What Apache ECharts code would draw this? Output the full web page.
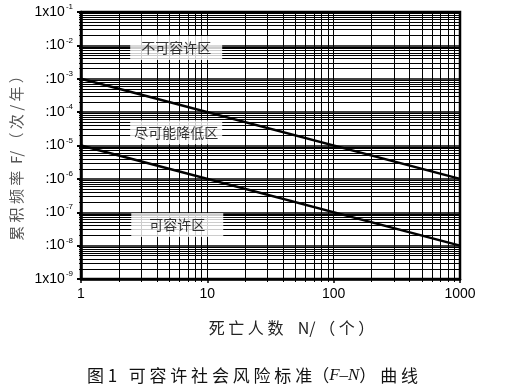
<!DOCTYPE html>
<html>
<head>
<meta charset="utf-8">
<script src="https://cdn.jsdelivr.net/npm/echarts@6/dist/echarts.min.js"></script>
<style>html,body{margin:0;padding:0;background:#fff}#c{width:505px;height:391px}</style>
</head>
<body>
<div id="c"></div>
<script>
// Data
var nValues = [1, 1000];
var upperLimit = [1e-3, 1e-6];
var lowerLimit = [1e-5, 1e-8];
var yTickPrefix = { '-1': '1x10', '-9': '1x10' }; // others shown as ':10'
var xTickLabels = ['1', '10', '100', '1000'];
var regionNames = ['不可容许区', '尽可能降低区', '可容许区'];
var regionN = [5.67, 5.67, 5.78];
var regionF = [8.3e-3, 2.5e-5, 4.15e-8];

var chart = echarts.init(document.getElementById('c'), null, {renderer: 'canvas'});
var cjk = '"Noto Sans CJK SC", sans-serif';
var latin = '"Liberation Sans", Arial, sans-serif';

var option = {
  animation: false,
  backgroundColor: '#fff',
  title: {
    text: '{a|图 1   可 容 许 社 会 风 险 标 准（}{i|F–N}{a|） 曲 线}',
    left: 'center',
    top: 362,
    textStyle: {
      rich: {
        a: { fontFamily: cjk, fontSize: 17, fontWeight: 'normal', color: '#111' },
        i: { fontFamily: '"Liberation Serif", serif', fontStyle: 'italic', fontWeight: 'normal', fontSize: 17, color: '#111' }
      }
    }
  },
  grid: {
    left: 81, right: 45, top: 12, bottom: 112,
    show: true, borderColor: '#000', borderWidth: 2.5
  },
  xAxis: {
    type: 'log', logBase: 10, min: 1, max: 1000,
    name: '死 亡 人 数    N/ （ 个 ）',
    nameLocation: 'middle',
    nameGap: 41,
    nameTextStyle: { fontFamily: cjk, fontSize: 16, color: '#222', padding: [0, 0, 0, 42] },
    axisLine: { lineStyle: { color: '#000', width: 2.5 } },
    axisTick: { show: true, length: 4, lineStyle: { color: '#000', width: 1.5 } },
    minorTick: { show: true, splitNumber: 9, length: 3, lineStyle: { color: '#000', width: 1 } },
    splitLine: { show: true, lineStyle: { color: '#000', width: 1 } },
    minorSplitLine: { show: true, lineStyle: { color: '#000', width: 1 } },
    axisLabel: {
      color: '#000', fontFamily: latin, fontSize: 14, margin: 8,
      formatter: function (v) {
        var e = Math.round(Math.log10(v));
        return xTickLabels[e];
      }
    }
  },
  yAxis: {
    type: 'log', logBase: 10, min: 1e-9, max: 1e-1, interval: 1,
    name: '累 积 频 率  F/ （ 次 / 年 ）',
    nameLocation: 'middle',
    nameGap: 53,
    nameRotate: 90,
    nameTextStyle: { fontFamily: cjk, fontSize: 15, color: '#555', padding: [0, 18, 0, 0] },
    axisLine: { lineStyle: { color: '#000', width: 2.5 } },
    axisTick: { show: true, length: 4, lineStyle: { color: '#000', width: 2 } },
    minorTick: { show: true, splitNumber: 9, length: 2, lineStyle: { color: '#000', width: 1 } },
    splitLine: { show: true, lineStyle: { color: '#000', width: 1.5 } },
    minorSplitLine: { show: true, lineStyle: { color: '#000', width: 1 } },
    axisLabel: {
      margin: 8,
      formatter: function (v) {
        var e = Math.round(Math.log10(v));
        var p = yTickPrefix[String(e)] || ':10';
        return '{b|' + p + '}{s|' + e + '}';
      },
      rich: {
        b: { fontFamily: latin, fontSize: 14, color: '#000' },
        s: { fontFamily: latin, fontSize: 8, color: '#000', padding: [0, 0, 10, 1] }
      }
    }
  },
  series: [
    {
      type: 'line', data: nValues.map(function (n, i) { return [n, upperLimit[i]]; }),
      symbol: 'none', lineStyle: { color: '#000', width: 2.5 }, z: 3
    },
    {
      type: 'line', data: nValues.map(function (n, i) { return [n, lowerLimit[i]]; }),
      symbol: 'none', lineStyle: { color: '#000', width: 2.5 }, z: 3
    },
    {
      type: 'scatter', symbolSize: 0, z: 5,
      data: regionNames.map(function (name, i) { return { name: name, value: [regionN[i], regionF[i]] }; }),
      label: {
        show: true, position: 'inside',
        formatter: '{b}',
        fontFamily: cjk, fontSize: 14, color: '#000',
        backgroundColor: '#fff',
        width: 78, align: 'center',
        padding: [5, 7]
      }
    }
  ]
};
chart.setOption(option);
</script>
</body>
</html>
